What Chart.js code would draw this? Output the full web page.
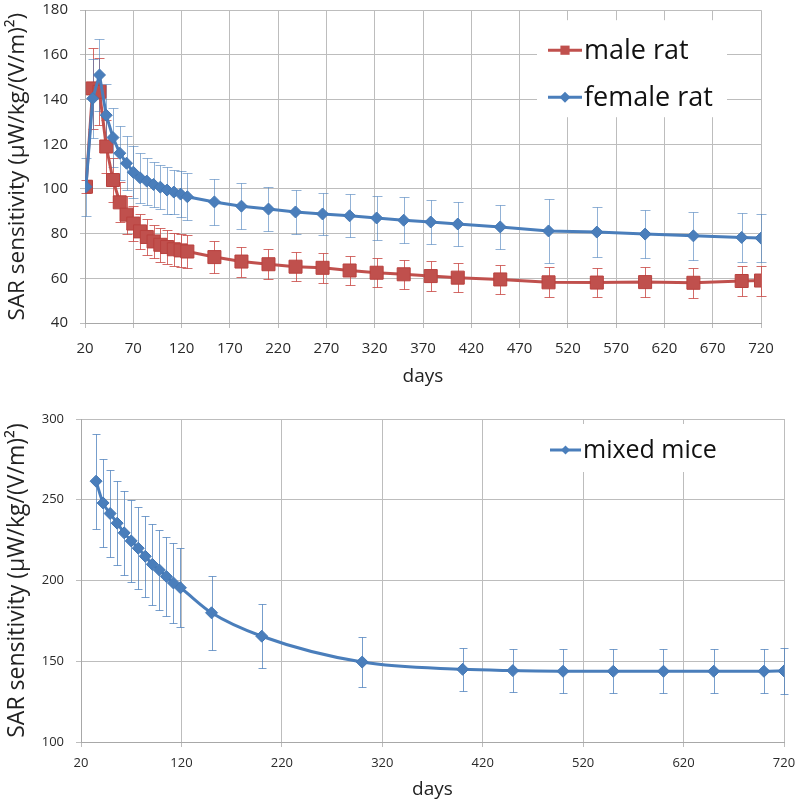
<!DOCTYPE html>
<html><head><meta charset="utf-8">
<script src="https://cdn.jsdelivr.net/npm/chart.js@4.4.1/dist/chart.umd.min.js"></script>
<style>
html,body{margin:0;padding:0;background:#fff;width:800px;height:803px;overflow:hidden}
.wrap{position:absolute;left:0;width:800px}
#w1{top:0;height:390px}
#w2{top:390px;height:413px}
canvas{display:block}
</style></head><body>
<div class="wrap" id="w1"><canvas id="c1" width="800" height="390"></canvas></div>
<div class="wrap" id="w2"><canvas id="c2" width="800" height="413"></canvas></div>
<script>
// ---------- data ----------
const ratDays = [21,28,35,42,49,56,63,70,77,84,91,98,105,112,119,126,154,182,210,238,266,294,322,350,378,406,450,500,550,600,650,700,720];
const maleRat = [101,145,143.5,119,104,94,88.5,84.5,81,78.5,76.5,75,74,73,72.5,72,69.5,67.5,66.3,65.2,64.7,63.5,62.5,61.8,61,60.3,59.5,58.2,58.1,58.3,58,58.8,59];
const maleRatErr = [3,18,15,12,10,9,8.5,8,8,8,7.5,7.5,7.5,7.5,7.5,7.5,7,6.7,6.7,6.6,6.6,6.6,6.6,6.6,6.6,6.6,6.6,6.7,6.6,6.6,6.6,6.6,6.7];
const femaleRat = [101,140.5,151,133,123,116,111.5,107.5,105,103.5,102,100.8,99.5,98.6,97.7,96.5,94.2,92.3,91,89.7,88.8,88,87,86,85.2,84.3,83,81.2,80.7,79.8,79,78.3,78];
const femaleRatErr = [13,17.5,16,14,13.4,12,12,11.7,11.2,10.5,10,10,10.5,10,10.3,10.5,10.3,10.3,10,9.7,9.5,9.7,10,10.2,10,10,10,14.5,11,10.8,10.6,10.9,10.7];
const ratXTicks = [20,70,120,170,220,270,320,370,420,470,520,570,620,670,720];
const ratYTicks = [40,60,80,100,120,140,160,180];

const miceDays = [35,42,49,56,63,70,77,84,91,98,105,112,119,150,200,300,400,450,500,550,600,650,700,720];
const mixedMice = [261.5,248,241.5,235.5,229.5,224.5,220,215,210,206.5,202.5,198.5,195.5,180,165.5,149.5,145,144.2,143.8,143.8,143.8,143.8,143.8,144];
const mixedMiceErr = [29.5,27.5,27,26,26,25.3,25.5,25,25,25,24.5,25,24.5,23,19.7,15.5,13.5,13.5,13.5,13.5,13.5,13.5,13.5,14];
const miceXTicks = [20,120,220,320,420,520,620,720];
const miceYTicks = [100,150,200,250,300];

const yTitle = 'SAR sensitivity (\u00B5W/kg/(V/m)\u00B2)';
const xTitle = 'days';

// ---------- plugins ----------
const errorBars = {
  id: 'errorBars',
  beforeDatasetsDraw(chart) {
    const {ctx, scales} = chart;
    const x = scales.x, y = scales.y;
    chart.data.datasets.forEach(ds => {
      if (!ds.errors) return;
      ctx.save();
      ctx.strokeStyle = ds.errorColor;
      ctx.lineWidth = 1;
      const cap = ds.errorCap || 4;
      ds.data.forEach((p, j) => {
        const e = ds.errors[j];
        const px = Math.round(x.getPixelForValue(p.x)) + 0.5;
        const t = Math.round(y.getPixelForValue(p.y + e)) + 0.5;
        const b = Math.round(y.getPixelForValue(p.y - e)) + 0.5;
        ctx.beginPath();
        ctx.moveTo(px, t); ctx.lineTo(px, b);
        ctx.moveTo(px - cap, t); ctx.lineTo(px + cap, t);
        ctx.moveTo(px - cap, b); ctx.lineTo(px + cap, b);
        ctx.stroke();
      });
      ctx.restore();
    });
  }
};

function drawMarker(ctx, style, cx, cy, r, fill) {
  ctx.fillStyle = fill;
  ctx.beginPath();
  if (style === 'rect') {
    const s = r * Math.SQRT1_2;
    ctx.rect(cx - s, cy - s, 2 * s, 2 * s);
  } else {
    ctx.moveTo(cx, cy - r); ctx.lineTo(cx + r, cy); ctx.lineTo(cx, cy + r); ctx.lineTo(cx - r, cy); ctx.closePath();
  }
  ctx.fill();
}

const boxLegend = {
  id: 'boxLegend',
  afterDatasetsDraw(chart, args, opts) {
    const ctx = chart.ctx;
    const a = chart.chartArea;
    ctx.save();
    ctx.fillStyle = '#fff';
    ctx.fillRect(a.left + opts.box[0], a.top + opts.box[1], opts.box[2], opts.box[3]);
    ctx.font = opts.font;
    ctx.textBaseline = 'middle';
    opts.order.forEach((di, k) => {
      const ds = chart.data.datasets[di];
      const yy = a.top + opts.rowY[k];
      const x0 = a.left + opts.lineX;
      ctx.strokeStyle = ds.borderColor;
      ctx.lineWidth = 3;
      ctx.beginPath(); ctx.moveTo(x0, yy); ctx.lineTo(x0 + opts.lineW, yy); ctx.stroke();
      drawMarker(ctx, ds.pointStyle, x0 + opts.lineW / 2, yy, opts.markerR[k], ds.pointBackgroundColor);
      ctx.fillStyle = '#111';
      ctx.fillText(ds.label, x0 + opts.lineW + 2, yy + 1);
    });
    ctx.restore();
  }
};

function ticksFrom(arr) {
  return s => { s.ticks = arr.map(v => ({value: v})); };
}

function axisOpts(cfg) {
  return {
    x: {
      type: 'linear', min: cfg.xmin, max: cfg.xmax,
      afterBuildTicks: ticksFrom(cfg.xticks),
      afterFit: s => { s.height = cfg.xh; s.paddingLeft = 0; s.paddingRight = 0; },
      grid: {color: '#BDBDBD', lineWidth: 1, tickLength: 5, drawTicks: true},
      border: {color: '#A8A8A8'},
      ticks: {autoSkip: false, maxRotation: 0, padding: cfg.xpad, color: '#2a2a2a', font: {family: 'Open Sans', size: cfg.tickSize}},
      title: {display: true, text: xTitle, color: '#222', font: {family: 'Open Sans', size: 19}, padding: {top: 0, bottom: cfg.xtitlePad}}
    },
    y: {
      type: 'linear', min: cfg.ymin, max: cfg.ymax,
      afterBuildTicks: ticksFrom(cfg.yticks),
      afterFit: s => { s.width = cfg.yw; s.paddingTop = 0; s.paddingBottom = 0; },
      grid: {color: '#BDBDBD', lineWidth: 1, tickLength: 5},
      border: {color: '#A8A8A8'},
      ticks: {padding: cfg.ypad, color: '#2a2a2a', font: {family: 'Open Sans', size: cfg.tickSize}},
      title: {display: true, text: yTitle, color: '#222', font: {family: 'Open Sans', size: cfg.ytitleSize}, padding: {top: cfg.ytitlePad, bottom: 0}}
    }
  };
}

const toPts = (xs, ys) => xs.map((d, i) => ({x: d, y: ys[i]}));

// ---------- chart 1: rats ----------
new Chart(document.getElementById('c1'), {
  type: 'line',
  data: {
    datasets: [
      {
        label: 'male rat', data: toPts(ratDays, maleRat), order: 1,
        borderColor: '#C0504D', backgroundColor: '#C0504D', borderWidth: 3, tension: 0,
        pointStyle: 'rect', pointRadius: 9.2, pointBackgroundColor: '#C0504D', pointBorderColor: '#B9413E', pointBorderWidth: 1,
        errors: maleRatErr, errorColor: 'rgba(200,70,66,0.8)', errorCap: 5
      },
      {
        label: 'female rat', data: toPts(ratDays, femaleRat), order: 0,
        borderColor: '#4A7EBB', backgroundColor: '#4A7EBB', borderWidth: 3, tension: 0,
        pointStyle: 'rectRot', pointRadius: 6, pointBackgroundColor: '#4A7EBB', pointBorderColor: '#4478B5', pointBorderWidth: 1,
        errors: femaleRatErr, errorColor: 'rgba(74,126,187,0.6)', errorCap: 5
      }
    ]
  },
  options: {
    responsive: false, animation: false, events: [],
    layout: {padding: {left: 0, right: 39, top: 10, bottom: 0}},
    scales: axisOpts({xmin: 20, xmax: 720, xticks: ratXTicks, ymin: 40, ymax: 180, yticks: ratYTicks,
      xh: 67, yw: 85, xpad: 12, ypad: 12, tickSize: 15, xtitlePad: 2, ytitlePad: 4, ytitleSize: 22.5}),
    plugins: {
      legend: {display: false}, tooltip: {enabled: false},
      boxLegend: {box: [452, 10, 190, 97], order: [0, 1], rowY: [40, 87], lineX: 463, lineW: 34, markerR: [6.5, 5.5], font: '27px "Open Sans"'}
    }
  },
  plugins: [errorBars, boxLegend]
});

// ---------- chart 2: mice ----------
new Chart(document.getElementById('c2'), {
  type: 'line',
  data: {
    datasets: [
      {
        label: 'mixed mice', data: toPts(miceDays, mixedMice),
        borderColor: '#4A7EBB', backgroundColor: '#4A7EBB', borderWidth: 3, cubicInterpolationMode: 'monotone',
        pointStyle: 'rectRot', pointRadius: 6, pointBackgroundColor: '#4A7EBB', pointBorderColor: '#4478B5', pointBorderWidth: 1,
        errors: mixedMiceErr, errorColor: 'rgba(74,126,187,0.75)', errorCap: 4
      }
    ]
  },
  options: {
    responsive: false, animation: false, events: [],
    layout: {padding: {left: 0, right: 16, top: 29, bottom: 0}},
    scales: axisOpts({xmin: 20, xmax: 720, xticks: miceXTicks, ymin: 100, ymax: 300, yticks: miceYTicks,
      xh: 61, yw: 81, xpad: 8, ypad: 12, tickSize: 13, xtitlePad: 2, ytitlePad: 4, ytitleSize: 23}),
    plugins: {
      legend: {display: false}, tooltip: {enabled: false},
      boxLegend: {box: [466, 5, 176, 48], order: [0], rowY: [31], lineX: 469, lineW: 31, markerR: [4.5], font: '25px "Open Sans"'}
    }
  },
  plugins: [errorBars, boxLegend]
});
</script>
</body></html>
